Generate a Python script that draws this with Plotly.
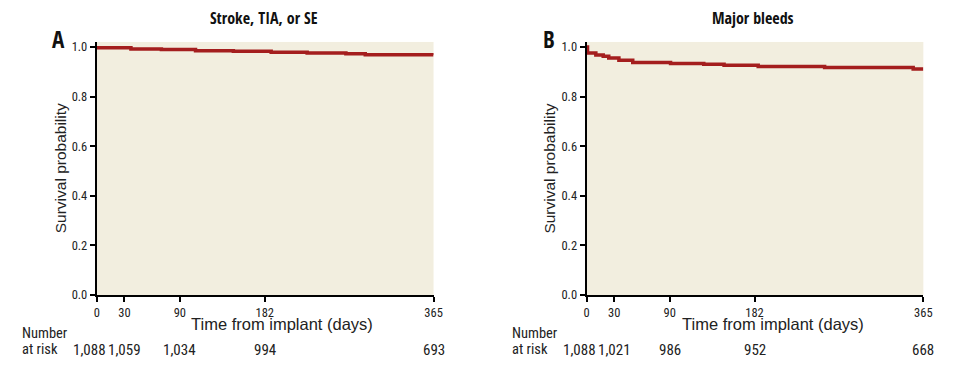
import plotly.graph_objects as go

# ---- data ----
days_a = [0, 37, 70, 107, 148, 189, 228, 270, 291, 365]
surv_a = [0.997, 0.992, 0.990, 0.985, 0.983, 0.979, 0.975, 0.972, 0.968, 0.967]

days_b = [0, 1, 10, 18, 24, 35, 50, 91, 127, 149, 186, 258, 354, 365]
surv_b = [1.0, 0.975, 0.967, 0.962, 0.955, 0.946, 0.937, 0.933, 0.930, 0.926, 0.921, 0.917, 0.911, 0.911]

x_ticks = [0, 30, 90, 182, 365]
y_ticks = [0.0, 0.2, 0.4, 0.6, 0.8, 1.0]
risk_a = ["1,088", "1,059", "1,034", "994", "693"]
risk_b = ["1,088", "1,021", "986", "952", "668"]
titles = ["Stroke, TIA, or SE", "Major bleeds"]
letters = ["A", "B"]

W, H = 959, 380
NARROW = "Roboto Condensed, Liberation Sans Narrow, sans-serif"
BOLDN = "Open Sans Condensed, Roboto Condensed, sans-serif"
SANS = "Liberation Sans, Arial, sans-serif"
LINE = "#A41E1E"
BG = "#F2EEDF"
TXT = "#222222"

fig = go.Figure()
fig.add_trace(go.Scatter(x=days_a, y=surv_a, mode="lines", line=dict(shape="hv", color=LINE, width=3.5),
                         xaxis="x", yaxis="y", showlegend=False, hoverinfo="skip"))
fig.add_trace(go.Scatter(x=days_b, y=surv_b, mode="lines", line=dict(shape="hv", color=LINE, width=3.5),
                         xaxis="x2", yaxis="y2", showlegend=False, hoverinfo="skip"))


def px_x(p):
    return p / W


def px_y(p):
    return 1 - p / H


ax_common = dict(showgrid=False, zeroline=False, showline=True, linecolor="black", linewidth=2,
                 ticks="outside", ticklen=5, tickwidth=2, tickcolor="black",
                 tickfont=dict(family=NARROW, size=12.5, color=TXT))

dom_a = [px_x(95), px_x(436)]
dom_b = [px_x(591), px_x(932)]
dom_y = [px_y(300), px_y(40)]

fig.update_layout(
    width=W, height=H, autosize=False,
    margin=dict(l=0, r=0, t=0, b=0),
    paper_bgcolor="white", plot_bgcolor=BG,
    xaxis=dict(domain=dom_a, range=[0, 365], tickvals=x_ticks, anchor="y", **ax_common),
    yaxis=dict(domain=dom_y, range=[0, 1.02], tickvals=y_ticks, tickformat=".1f", anchor="x", **ax_common),
    xaxis2=dict(domain=dom_b, range=[0, 365], tickvals=x_ticks, anchor="y2", **ax_common),
    yaxis2=dict(domain=dom_y, range=[0, 1.02], tickvals=y_ticks, tickformat=".1f", anchor="x2", **ax_common),
)

ann = []
panels = [("x", 17, 283, 58.5, 264, 56, risk_a), ("x2", 513, 780, 553, 760, 553, risk_b)]
for i, (xr, num_x, xt_x, yt_x, title_x, let_x, risk) in enumerate(panels):
    ann.append(dict(text=titles[i], x=px_x(title_x), y=px_y(15), xref="paper", yref="paper",
                    showarrow=False, font=dict(family=BOLDN, size=16, color="#111"),
                    xanchor="center", yanchor="middle"))
    ann.append(dict(text=letters[i], x=px_x(let_x), y=px_y(37), xref="paper", yref="paper",
                    showarrow=False, font=dict(family=BOLDN, size=23, color="#111"),
                    xanchor="center", yanchor="middle"))
    ann.append(dict(text="Time from implant (days)", x=px_x(xt_x), y=px_y(330), xref="paper", yref="paper",
                    showarrow=False, font=dict(family=SANS, size=16.5, color=TXT),
                    xanchor="center", yanchor="middle"))
    ann.append(dict(text="Survival probability", x=px_x(yt_x), y=px_y(170), xref="paper", yref="paper",
                    textangle=-90, showarrow=False, font=dict(family=SANS, size=15.5, color=TXT),
                    xanchor="center", yanchor="middle"))
    ann.append(dict(text="Number", x=px_x(num_x), y=px_y(339), xref="paper", yref="paper",
                    showarrow=False, font=dict(family=NARROW, size=14.5, color=TXT),
                    xanchor="left", yanchor="middle"))
    ann.append(dict(text="at risk", x=px_x(num_x), y=px_y(356), xref="paper", yref="paper",
                    showarrow=False, font=dict(family=NARROW, size=14.5, color=TXT),
                    xanchor="left", yanchor="middle"))
    for j, (t, lab) in enumerate(zip(x_ticks, risk)):
        ann.append(dict(text=lab, x=t, y=px_y(356), xref=xr, yref="paper", showarrow=False,
                        xshift=-7 if j == 0 else 0,
                        font=dict(family=NARROW, size=15, color=TXT),
                        xanchor="center", yanchor="middle"))

fig.update_layout(annotations=ann)

post = ("var de=document.documentElement, bd=document.body;"
        "[de,bd].forEach(function(e){e.style.margin='0';e.style.padding='0';e.style.width='959px';"
        "e.style.height='380px';e.style.overflow='hidden';e.style.position='relative';});"
        "var gd=document.getElementById('{plot_id}');"
        "gd.style.overflow='hidden';"
        "if(gd.parentElement){gd.parentElement.style.width='959px';gd.parentElement.style.height='380px';"
        "gd.parentElement.style.overflow='hidden';gd.parentElement.style.position='relative';}"
        "gd.querySelectorAll('svg.main-svg').forEach(function(s){s.style.overflow='hidden';});"
        "var t=document.getElementById('js-plotly-tester'); if(t){t.style.display='none';}")
fig.write_html("out.html", post_script=post, config={"responsive": False, "displayModeBar": False})
